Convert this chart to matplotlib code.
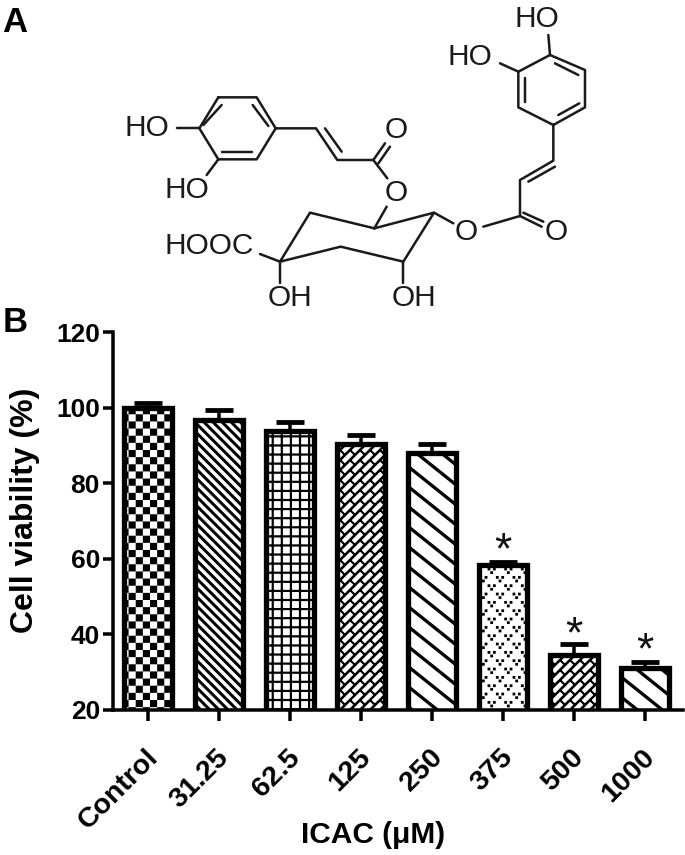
import matplotlib
matplotlib.use("Agg")
import matplotlib.pyplot as plt
import matplotlib.hatch as mhatch
from matplotlib.transforms import ScaledTranslation
import numpy as np
from matplotlib.path import Path

categories = ["Control", "31.25", "62.5", "125", "250", "375", "500", "1000"]
viability = [100.0, 96.6, 93.8, 90.2, 88.0, 58.4, 34.4, 31.1]
upper_err = [1.3, 2.7, 2.4, 2.5, 2.3, 0.7, 3.0, 1.6]
fills = ["x", "\\", "+", "X", "-", ".", "X", "-"]
star_bars = [5, 6, 7]
star_heights = [61.7, 39.4, 35.4]
y_ticks = [20, 40, 60, 80, 100, 120]

PX = 0.72  # points per pixel at 100 dpi
FONT = "Liberation Sans"

# ---- hatch tiles: one tile is 100 px wide at dpi 100 ----
def seg(x0, y0, x1, y1, t):
    d = np.array([x1 - x0, y1 - y0], float)
    n = np.array([-d[1], d[0]]) / np.hypot(*d) * t / 200.0
    a, b = np.array([x0, y0]), np.array([x1, y1])
    return [a - n, b - n, b + n, a + n]

def rect(x0, y0, x1, y1):
    return [(x0, y0), (x1, y0), (x1, y1), (x0, y1)]

def wrapped(polys):
    out = []
    for p in polys:
        for dx in (-1, 0, 1):
            for dy in (-1, 0, 1):
                out.append([(q[0] + dx, q[1] + dy) for q in p])
    return out

def tile(ch):
    polys = []
    if ch == "x":      # checkerboard
        n = 14
        for i in range(n):
            for j in range(n):
                if (i + j) % 2 == 0:
                    polys.append(rect(i / n, j / n, (i + 1) / n, (j + 1) / n))
    elif ch == "\\":   # fine diagonal
        n = 11
        for k in range(-n, 2 * n + 1):
            polys.append(seg(-1, k / n + 1, 2, k / n - 2, 3.0))
    elif ch == "+":    # square grid
        n = 11
        w = 0.011
        for k in range(n + 1):
            polys.append(rect(k / n - w, -0.1, k / n + w, 1.1))
            polys.append(rect(-0.1, k / n - w, 1.1, k / n + w))
    elif ch == "X":    # brick weave
        n = 5
        t = 2.1
        for i in range(-1, n + 1):
            for j in range(-1, n + 1):
                for off in (0.0, 0.5):
                    polys.append(seg((i - 1) / n, (j - 1 + off) / n, (i + 2) / n, (j + 2 + off) / n, t))
                for sx, sy, ex, ey in ((0.5, 0.5, 0.75, 0.25), (0.0, 0.0, 0.25, -0.25),
                                       (1.0, 0.5, 1.25, 0.25), (0.5, 0.0, 0.75, -0.25)):
                    polys.append(seg((i + sx) / n, (j + sy) / n, (i + ex) / n, (j + ey) / n, t))
    elif ch == "-":    # wide diagonal
        for k in range(-1, 11):
            polys.append(seg(-1, (k + 4) / 5, 2, (k - 8) / 5, 3.3))
    elif ch == ".":    # three-dot clusters
        n = 6
        s = 0.014
        for i in range(n):
            for j in range(2 * n):
                x = (i + (0.5 if j % 2 else 0)) / n
                y = (j + 0.5) / (2 * n)
                for dx, dy in ((-0.027, 0.018), (0.027, 0.018), (0.0, -0.018)):
                    polys.append(rect(x + dx - s, y + dy - s, x + dx + s, y + dy + s))
        polys = wrapped(polys)
    return polys

class TileHatch(mhatch.HatchPatternBase):
    def __init__(self, hatch, density):
        self.polys = []
        for ch in set(hatch):
            self.polys += tile(ch)
        self.num_vertices = 5 * len(self.polys)

    def set_vertices_and_codes(self, vertices, codes):
        for i, p in enumerate(self.polys):
            vertices[5 * i:5 * i + 4] = p
            vertices[5 * i + 4] = p[0]
            codes[5 * i] = Path.MOVETO
            codes[5 * i + 1:5 * i + 4] = Path.LINETO
            codes[5 * i + 4] = Path.CLOSEPOLY

mhatch._hatch_types = [TileHatch]
plt.rcParams["hatch.linewidth"] = 0.0
plt.rcParams["font.family"] = [FONT, "DejaVu Sans"]

W, H = 685, 855
fig = plt.figure(figsize=(W / 100, H / 100), dpi=100, facecolor="white")

# ---- panel B: bar chart ----
ax = fig.add_axes([113 / W, 1 - 709.5 / H, 570 / W, 377.5 / H])
x = np.arange(len(categories))
ax.errorbar(x, viability, yerr=[[0] * len(x), upper_err], fmt="none", ecolor="black",
            elinewidth=3.5 * PX, capsize=14 * PX, capthick=4.8 * PX, zorder=2)
for xi, v, f in zip(x, viability, fills):
    ax.bar(xi, v, width=0.665, facecolor="white", edgecolor="black", linewidth=5.3 * PX,
           hatch=f, zorder=3, joinstyle="miter")
ax.set_xlim(-0.493, 7.535)
ax.set_ylim(20, 120)
ax.set_yticks(y_ticks)
ax.set_xticks(x)
ax.set_xticklabels(categories, rotation=45, ha="right", rotation_mode="anchor",
                   fontsize=20.5, fontweight="bold")
ax.tick_params(axis="y", labelsize=19, width=3.5 * PX, length=10 * PX, pad=3 * PX)
ax.tick_params(axis="x", width=3.5 * PX, length=11 * PX, pad=24 * PX)
shift = ScaledTranslation(-3 / 100, 0, fig.dpi_scale_trans)
for lab in ax.get_xticklabels():
    lab.set_transform(lab.get_transform() + shift)
for lab in ax.get_yticklabels():
    lab.set_fontweight("bold")
for side in ("top", "right"):
    ax.spines[side].set_visible(False)
for side in ("left", "bottom"):
    ax.spines[side].set_linewidth(3.5 * PX)
    ax.spines[side].set_zorder(5)
ax.set_ylabel("Cell viability (%)", fontsize=23, fontweight="bold", va="center")
ax.yaxis.set_label_coords(25 / W, 1 - 510 / H, transform=fig.transFigure)
ax.set_xlabel("ICAC (μM)", fontsize=21.5, fontweight="bold", va="center")
ax.xaxis.set_label_coords(373 / W, 1 - 835 / H, transform=fig.transFigure)
for i, h in zip(star_bars, star_heights):
    ax.text(i, h, "*", fontsize=32, ha="center", va="center", color="#111111", zorder=6)

fig.text(2 / W, 1 - 23 / H, "A", fontsize=25, fontweight="bold", va="center", ha="left")
fig.text(3 / W, 1 - 322 / H, "B", fontsize=25, fontweight="bold", va="center", ha="left")

# ---- panel A: structure drawing (coordinates on a 1440 x 960 canvas) ----
bonds = [
    [(325, 292), (440, 292), (497, 385), (440, 478), (325, 478), (268, 385), (325, 292)],
    [(280, 375), (335, 315)], [(428, 315), (475, 378)], [(335, 455), (425, 455)],
    [(200, 385), (268, 385)], [(325, 478), (290, 525)],
    [(497, 385), (618, 385), (682, 480), (790, 480)], [(645, 385), (695, 455)],
    [(790, 480), (825, 430)], [(805, 490), (840, 440)], [(790, 480), (832, 535)],
    [(830, 620), (793, 685)],
    [(793, 685), (972, 638), (880, 785), (692, 740), (510, 785), (600, 638), (793, 685)],
    [(972, 638), (1030, 670)], [(1120, 680), (1230, 648)],
    [(1230, 648), (1295, 680)], [(1240, 638), (1300, 665)],
    [(1230, 648), (1230, 540), (1330, 482), (1330, 375)], [(1255, 545), (1335, 500)],
    [(1330, 375), (1425, 322), (1425, 210), (1320, 165), (1225, 215), (1225, 322), (1330, 375)],
    [(1345, 345), (1408, 310)], [(1405, 225), (1335, 190)], [(1245, 235), (1245, 305)],
    [(1320, 165), (1315, 105)], [(1225, 215), (1170, 190)],
    [(450, 762), (510, 785)], [(510, 785), (510, 848)], [(880, 785), (880, 848)],
]
atoms = [
    ("HO", 112, 385), ("HO", 230, 570), ("O", 858, 390), ("O", 858, 578),
    ("HOOC", 298, 738), ("OH", 540, 895), ("OH", 912, 895), ("O", 1068, 695),
    ("O", 1340, 695), ("HO", 1282, 57), ("HO", 1080, 170),
]
chem = fig.add_axes([110 / W, 1 - 320 / H, 480 / W, 320 / H])
chem.set_xlim(0, 1440)
chem.set_ylim(960, 0)
chem.axis("off")
for b in bonds:
    xs, ys = zip(*b)
    chem.plot(xs, ys, color="#1a1a1a", lw=2.5 * PX, solid_capstyle="round", solid_joinstyle="round")
for t, xa, ya in atoms:
    chem.text(xa, ya, t, fontsize=21.5, ha="center", va="center", color="#1a1a1a")

fig.savefig("out.png", dpi=100, facecolor="white")
